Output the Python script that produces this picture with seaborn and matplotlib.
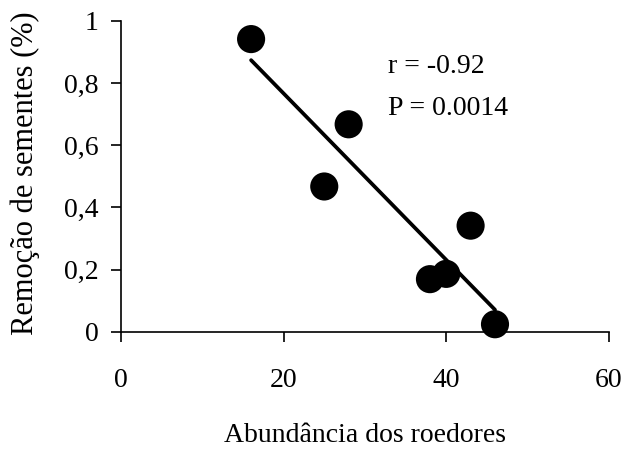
import matplotlib
matplotlib.use("Agg")
import matplotlib.pyplot as plt
import seaborn as sns
import pandas as pd

abundancia = [16, 25, 28, 38, 40, 43, 46]
remocao = [0.941, 0.467, 0.667, 0.169, 0.186, 0.341, 0.024]
x_ticks = [0, 20, 40, 60]
y_ticks = [0, 0.2, 0.4, 0.6, 0.8, 1.0]
y_tick_labels = ["0", "0,2", "0,4", "0,6", "0,8", "1"]
stats_text = ["r = -0.92", "P = 0.0014"]

sns.set_theme(style="ticks")
plt.rcParams["font.family"] = ["Liberation Serif", "DejaVu Serif"]

df = pd.DataFrame({"x": abundancia, "y": remocao})

fig = plt.figure(figsize=(6.27, 4.51), dpi=100)
ax = fig.add_axes([0.193, 0.2645, 0.778, 0.6895])

sns.regplot(data=df, x="x", y="y", ax=ax, ci=None, truncate=True,
            scatter_kws=dict(s=410, color="black", alpha=1, edgecolor="none", clip_on=False, zorder=3),
            line_kws=dict(color="black", lw=2.7))

ax.set_xlim(0, 60)
ax.set_ylim(0, 1)
ax.set_xticks(x_ticks)
ax.set_xticklabels([str(t) for t in x_ticks])
ax.set_yticks(y_ticks)
ax.set_yticklabels(y_tick_labels)
sns.despine(ax=ax)
for s in ["left", "bottom"]:
    ax.spines[s].set_linewidth(1.2)
    ax.spines[s].set_color("black")
ax.tick_params(axis="both", colors="black", labelsize=20, width=1.2, length=7)
ax.tick_params(axis="x", pad=19)
ax.tick_params(axis="y", pad=9)

ax.set_xlabel("Abundância dos roedores", fontsize=20, color="black", labelpad=22)
ax.set_ylabel("Remoção de sementes (%)", fontsize=22, color="black")
ax.yaxis.set_label_coords(-0.166, 0.509)

ax.text(32.9, 0.833, stats_text[0], fontsize=20, color="black", va="baseline")
ax.text(32.9, 0.697, stats_text[1], fontsize=20, color="black", va="baseline")

fig.savefig("out.png", dpi=100)
